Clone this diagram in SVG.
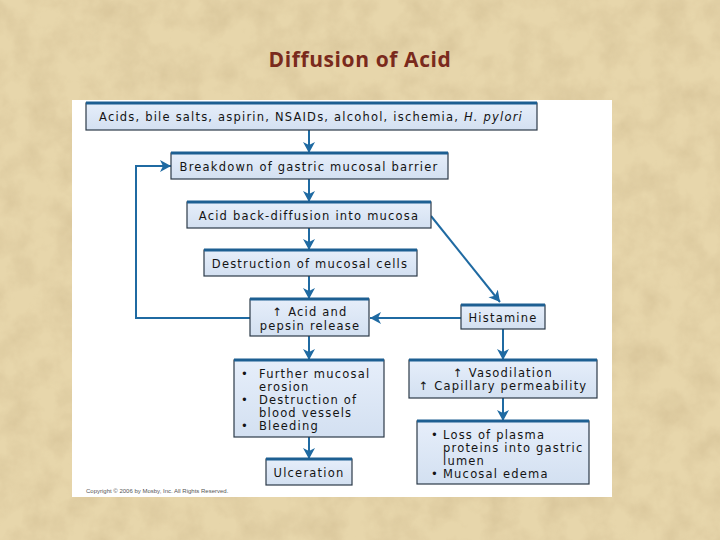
<svg xmlns="http://www.w3.org/2000/svg" width="720" height="540" viewBox="0 0 720 540">
<defs>
<style>
.bx{fill:url(#bf);stroke:#2c3a48;stroke-width:1.2}
.tp{stroke:#1d5f92;stroke-width:3}
.t{font-family:"DejaVu Sans",sans-serif;font-size:11.5px;letter-spacing:1.2px;fill:#141414}
.c{text-anchor:middle}
.ar{fill:none;stroke:#1f6aa2;stroke-width:2}
</style>
<linearGradient id="bf" x1="0" y1="0" x2="0" y2="1"><stop offset="0" stop-color="#e6eefa"/><stop offset="1" stop-color="#d3e0f1"/></linearGradient>
<marker id="ah" markerUnits="userSpaceOnUse" markerWidth="14" markerHeight="14" refX="11" refY="6" orient="auto"><path d="M0,0 L11,6 L0,12 L3,6 z" fill="#1f6aa2"/></marker>
<filter id="paper" x="0" y="0" width="100%" height="100%"><feTurbulence type="fractalNoise" baseFrequency="0.035" numOctaves="4" seed="7"/><feColorMatrix type="matrix" values="0 0 0 0 0.6 0 0 0 0 0.47 0 0 0 0 0.26 0 0 0 -1.6 1.05"/></filter>
</defs>
<rect width="720" height="540" fill="#e7d6ab"/>
<rect width="720" height="540" filter="url(#paper)" opacity="0.5"/>
<text x="360" y="67" text-anchor="middle" font-family="'Open Sans',sans-serif" font-size="21" font-weight="bold" letter-spacing="0.6" fill="#7a2a1c">Diffusion of Acid</text>
<rect x="72" y="100" width="540" height="397" fill="#ffffff"/>
<g id="connectors">
<line class="ar" x1="309" y1="130" x2="309" y2="153" marker-end="url(#ah)"/>
<line class="ar" x1="309" y1="179" x2="309" y2="202" marker-end="url(#ah)"/>
<line class="ar" x1="309" y1="228" x2="309" y2="250" marker-end="url(#ah)"/>
<line class="ar" x1="309" y1="276" x2="309" y2="299" marker-end="url(#ah)"/>
<line class="ar" x1="431" y1="216" x2="500" y2="302" marker-end="url(#ah)"/>
<line class="ar" x1="461" y1="318" x2="370" y2="318" marker-end="url(#ah)"/>
<polyline class="ar" points="250,318 136,318 136,166 171,166" marker-end="url(#ah)"/>
<line class="ar" x1="309" y1="336" x2="309" y2="360" marker-end="url(#ah)"/>
<line class="ar" x1="309" y1="437" x2="309" y2="459" marker-end="url(#ah)"/>
<line class="ar" x1="503" y1="329" x2="503" y2="360" marker-end="url(#ah)"/>
<line class="ar" x1="503" y1="398" x2="503" y2="421" marker-end="url(#ah)"/>
</g>
<g id="n1"><rect class="bx" x="86" y="103" width="451" height="27"/><line class="tp" x1="86" y1="103" x2="537" y2="103"/>
<text class="t c" x="311" y="121">Acids, bile salts, aspirin, NSAIDs, alcohol, ischemia, <tspan font-style="italic">H. pylori</tspan></text></g>
<g id="n2"><rect class="bx" x="171" y="153" width="277" height="26"/><line class="tp" x1="171" y1="153" x2="448" y2="153"/>
<text class="t c" x="309" y="171">Breakdown of gastric mucosal barrier</text></g>
<g id="n3"><rect class="bx" x="187" y="202" width="244" height="26"/><line class="tp" x1="187" y1="202" x2="431" y2="202"/>
<text class="t c" x="309" y="220">Acid back-diffusion into mucosa</text></g>
<g id="n4"><rect class="bx" x="204" y="250" width="213" height="26"/><line class="tp" x1="204" y1="250" x2="417" y2="250"/>
<text class="t c" x="310" y="268">Destruction of mucosal cells</text></g>
<g id="n5"><rect class="bx" x="250" y="299" width="119" height="37"/><line class="tp" x1="250" y1="299" x2="369" y2="299"/>
<text class="t c" x="310" y="316">↑ Acid and</text><text class="t c" x="310" y="330">pepsin release</text></g>
<g id="n6"><rect class="bx" x="461" y="305" width="84" height="24"/><line class="tp" x1="461" y1="305" x2="545" y2="305"/>
<text class="t c" x="503" y="322">Histamine</text></g>
<g id="n7"><rect class="bx" x="234" y="360" width="150" height="77"/><line class="tp" x1="234" y1="360" x2="384" y2="360"/>
<text class="t" x="241" y="378">•</text><text class="t" x="259" y="378">Further mucosal</text>
<text class="t" x="259" y="391">erosion</text>
<text class="t" x="241" y="404">•</text><text class="t" x="259" y="404">Destruction of</text>
<text class="t" x="259" y="417">blood vessels</text>
<text class="t" x="241" y="430">•</text><text class="t" x="259" y="430">Bleeding</text></g>
<g id="n8"><rect class="bx" x="266" y="459" width="86" height="26"/><line class="tp" x1="266" y1="459" x2="352" y2="459"/>
<text class="t c" x="309" y="477">Ulceration</text></g>
<g id="n9"><rect class="bx" x="409" y="360" width="188" height="38"/><line class="tp" x1="409" y1="360" x2="597" y2="360"/>
<text class="t c" x="503" y="377">↑ Vasodilation</text><text class="t c" x="503" y="390">↑ Capillary permeability</text></g>
<g id="n10"><rect class="bx" x="417" y="421" width="172" height="63"/><line class="tp" x1="417" y1="421" x2="589" y2="421"/>
<text class="t" x="431" y="439">•</text><text class="t" x="443" y="439">Loss of plasma</text>
<text class="t" x="443" y="452">proteins into gastric</text>
<text class="t" x="443" y="465">lumen</text>
<text class="t" x="431" y="478">•</text><text class="t" x="443" y="478">Mucosal edema</text></g>
<text x="86" y="493" font-family="'Liberation Sans',sans-serif" font-size="6" fill="#555">Copyright © 2006 by Mosby, Inc. All Rights Reserved.</text>
</svg>
